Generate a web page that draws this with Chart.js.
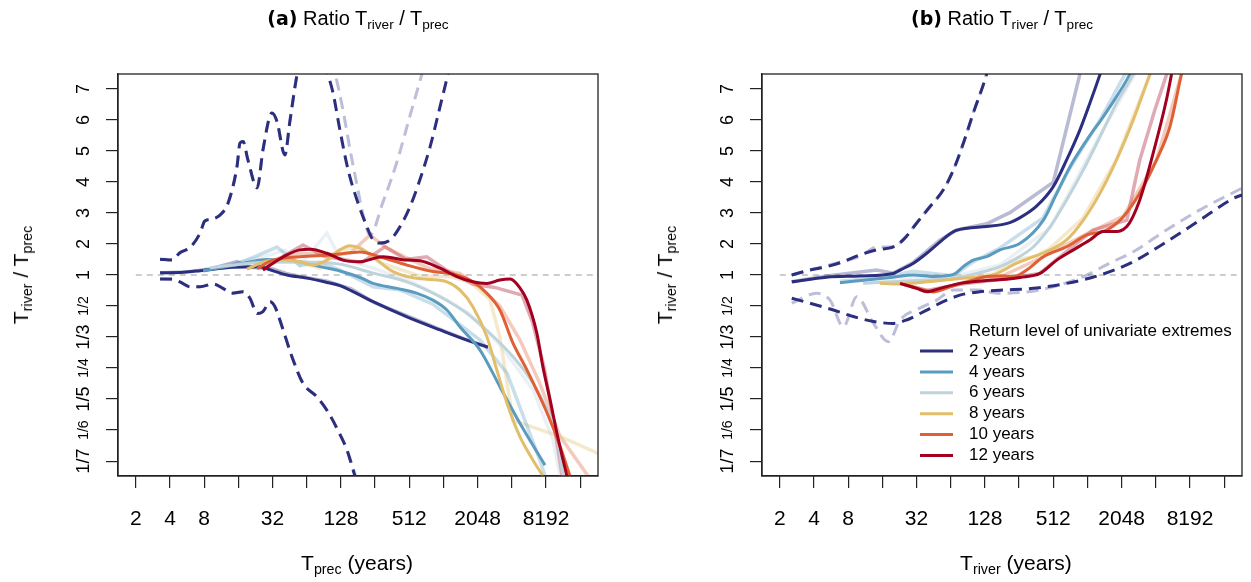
<!DOCTYPE html>
<html>
<head>
<meta charset="utf-8">
<script src="https://cdn.jsdelivr.net/npm/chart.js@4.4.1/dist/chart.umd.min.js"></script>
<style>
  body { margin: 0; background: #fff; }
  #wrap { position: relative; width: 1251px; height: 582px; overflow: hidden; font-family: "Liberation Sans", Arial, sans-serif; color: #000; }
  canvas { position: absolute; top: 0; }
  #chartA { left: 0; }
  #chartB { left: 625px; }
  .txt { position: absolute; white-space: nowrap; }
  .title { font-size: 20px; top: 7px; transform: translateX(-50%); }
  .title b { font-family: "DejaVu Sans", sans-serif; font-size: 19px; }
  .xtitle { font-size: 21px; top: 551px; transform: translateX(-50%); }
  .ytitle { font-size: 21px; transform: translate(-50%, -50%) rotate(-90deg); }
  sub { font-size: 0.68em; vertical-align: -0.3em; line-height: 0; }
</style>
</head>
<body>
<div id="wrap">
  <canvas id="chartA" width="625" height="582"></canvas>
  <canvas id="chartB" width="626" height="582"></canvas>
  <div class="txt title" style="left:358px"><b>(a)</b> Ratio T<sub>river</sub> / T<sub>prec</sub></div>
  <div class="txt title" style="left:1002px"><b>(b)</b> Ratio T<sub>river</sub> / T<sub>prec</sub></div>
  <div class="txt xtitle" style="left:357px">T<sub>prec</sub> (years)</div>
  <div class="txt xtitle" style="left:1016px">T<sub>river</sub> (years)</div>
  <div class="txt ytitle" style="left:21px;top:275px">T<sub>river</sub> / T<sub>prec</sub></div>
  <div class="txt ytitle" style="left:665px;top:275px">T<sub>river</sub> / T<sub>prec</sub></div>
</div>
<script>
// x values are log2 of the return period (years); y values are on the symmetric
// ratio scale used by the figure: k >= 0 means ratio k+1, k < 0 means ratio 1/(1-k)
const xTicks = [1, 2, 3, 4, 5, 6, 7, 8, 9, 10, 11, 12, 13, 14];
const xLabelled = [1, 2, 3, 5, 7, 9, 11, 13];
const yTicks = [-6, -5, -4, -3, -2, -1, 0, 1, 2, 3, 4, 5, 6];
const returnLevels = ['2 years', '4 years', '6 years', '8 years', '10 years', '12 years'];
const legendTitle = 'Return level of univariate extremes';

// panel (a): smoothed ratios against T_prec
const aYr2 = [[1.71,0.07],[2.38,0.09],[2.88,0.14],[3.84,0.25],[4.63,0.27],[4.84,0.2],[5.42,0.0],[6.01,-0.1],[6.59,-0.24],[6.97,-0.34],[7.56,-0.65],[7.94,-0.86],[8.93,-1.35],[9.9,-1.77],[10.69,-2.1],[11.3,-2.33]];
const aYr4 = [[2.97,0.14],[3.9,0.32],[4.84,0.5],[5.8,0.43],[6.39,0.27],[6.97,0.13],[7.56,-0.08],[7.94,-0.27],[8.64,-0.43],[9.23,-0.59],[9.69,-0.81],[10.1,-1.13],[10.48,-1.67],[11.07,-2.42],[11.65,-3.6],[12.24,-4.79],[12.97,-6.13]];
const aYr6 = [[3.17,0.23],[4.05,0.35],[4.93,0.42],[5.8,0.42],[6.97,0.35],[7.94,0.06],[8.93,-0.22],[9.9,-0.7],[10.69,-1.24],[11.36,-1.88],[12.03,-2.63],[12.62,-3.49],[13.03,-4.35],[13.32,-5.21],[13.5,-6.48]];
const aYr8 = [[4.25,0.19],[4.84,0.45],[5.31,0.48],[5.8,0.43],[6.18,0.32],[6.59,0.48],[6.97,0.81],[7.27,0.94],[7.56,0.86],[7.94,0.59],[8.44,0.16],[8.93,-0.05],[9.52,-0.14],[10.1,-0.22],[10.48,-0.48],[10.86,-1.02],[11.27,-1.99],[11.56,-3.06],[11.86,-4.14],[12.24,-5.22],[12.62,-5.97],[12.91,-6.48]];
const aYr10 = [[4.55,0.21],[5.01,0.48],[5.8,0.59],[6.77,0.65],[7.56,0.74],[8.14,0.59],[8.93,0.32],[9.69,0.11],[10.28,0.03],[10.86,-0.22],[11.27,-0.59],[11.65,-1.13],[12.03,-2.19],[12.44,-3.06],[13.03,-4.45],[13.41,-5.52],[13.7,-6.48]];
const aYr12 = [[4.72,0.16],[5.01,0.38],[5.42,0.65],[5.8,0.81],[6.1,0.83],[6.59,0.7],[7.06,0.48],[7.56,0.43],[8.23,0.59],[8.93,0.48],[9.31,0.46],[9.9,0.22],[10.39,-0.05],[10.86,-0.22],[11.27,-0.27],[11.65,-0.16],[11.95,-0.13],[12.24,-0.42],[12.44,-0.81],[12.73,-1.87],[12.91,-2.97],[13.12,-4.03],[13.32,-5.1],[13.5,-5.97],[13.61,-6.48]];

// panel (a): raw (unsmoothed) ratios
const aRaw2 = [[1.71,0.07],[2.5,0.1],[3.2,0.2],[3.96,0.43],[4.34,0.25],[5.0,0.2],[5.4,0.05],[5.8,-0.05],[6.6,-0.2],[7.3,-0.45],[8.0,-0.9],[8.9,-1.3],[9.9,-1.75],[10.7,-2.1],[11.3,-2.33]];
const aRaw4 = [[2.97,0.13],[3.8,0.3],[4.4,0.55],[5.13,0.9],[5.8,0.3],[6.39,0.42],[6.97,0.16],[7.94,-0.38],[8.73,-0.48],[9.69,-0.94],[10.48,-1.6],[11.07,-2.1],[11.86,-3.16],[12.82,-5.97],[12.97,-6.48]];
const aRaw6 = [[3.17,0.2],[4.05,0.42],[4.93,0.65],[5.36,0.8],[5.8,0.3],[6.59,1.35],[6.97,0.55],[7.94,0.22],[8.93,-0.16],[9.9,-0.68],[10.69,-1.2],[11.65,-2.25],[12.62,-3.7],[13.2,-5.3],[13.41,-6.48]];
const aRaw8 = [[4.25,0.19],[4.93,0.42],[5.8,0.42],[6.39,0.22],[6.97,0.81],[7.56,0.9],[8.14,0.4],[9.31,-0.03],[10.19,-0.06],[10.78,-0.22],[11.36,-0.8],[11.65,-2.0],[12.03,-4.69],[13.41,-5.2],[14.52,-5.75]];
const aRaw10 = [[4.55,0.2],[5.22,0.55],[5.8,0.7],[6.4,0.65],[7.27,0.7],[7.85,1.29],[8.3,0.9],[8.93,0.55],[9.61,0.2],[10.48,0.05],[11.07,-0.4],[11.65,-1.0],[12.24,-2.1],[12.82,-3.5],[13.41,-5.2],[14.23,-6.48]];
const aRaw12 = [[4.72,0.16],[5.3,0.6],[5.89,0.97],[6.5,0.6],[7.06,0.5],[7.6,0.4],[8.29,0.91],[8.9,0.5],[9.51,0.59],[10.1,0.15],[10.86,-0.3],[11.5,-0.4],[12.3,-0.65],[12.6,-1.5],[12.95,-3.0],[13.2,-4.6],[13.47,-6.48]];

// panel (a): bounds for the 2-year level
const aUpper = [[1.71,0.51],[2.06,0.48],[2.29,0.72],[2.59,0.89],[2.88,1.35],[3.02,1.74],[3.23,1.8],[3.52,1.99],[3.7,2.32],[3.96,3.49],[4.05,4.26],[4.14,4.3],[4.28,3.71],[4.55,2.81],[4.72,4.03],[4.98,5.22],[5.13,4.95],[5.36,3.87],[5.51,4.97],[5.72,6.48],[6.15,8.5],[6.62,6.48],[6.77,5.87],[6.97,4.68],[7.21,3.39],[7.47,2.42],[7.76,1.56],[7.94,1.13],[8.14,1.03],[8.44,1.13],[8.73,1.56],[9.02,2.2],[9.31,3.07],[9.61,4.14],[9.9,5.43],[10.13,6.48],[10.42,8.0]];
const aUpperRaw = [[1.71,0.51],[2.06,0.5],[2.29,0.72],[2.59,0.89],[2.88,1.35],[3.02,1.74],[3.23,1.8],[3.52,1.99],[3.7,2.32],[3.96,3.49],[4.05,4.26],[4.14,4.3],[4.28,3.71],[4.55,2.81],[4.72,4.03],[4.98,5.22],[5.13,4.95],[5.36,3.87],[5.51,4.97],[5.72,6.48],[6.2,8.5],[6.83,6.48],[7.06,5.32],[7.27,4.03],[7.47,2.9],[7.65,1.94],[7.85,1.29],[8.23,2.35],[8.64,3.65],[9.02,5.13],[9.37,6.48],[9.61,7.4]];
const aLower = [[1.71,-0.13],[2.06,-0.13],[2.29,-0.22],[2.59,-0.38],[2.88,-0.38],[3.26,-0.29],[3.55,-0.43],[3.81,-0.59],[4.14,-0.54],[4.34,-0.75],[4.55,-1.24],[4.72,-1.18],[4.93,-0.86],[5.07,-1.02],[5.28,-1.67],[5.57,-2.64],[5.89,-3.49],[6.3,-3.93],[6.62,-4.41],[6.91,-5.0],[7.18,-5.65],[7.41,-6.48],[7.62,-7.2]];
const aLowerRaw = [[1.71,-0.13],[2.06,-0.15],[2.29,-0.22],[2.59,-0.38],[2.88,-0.38],[3.26,-0.29],[3.55,-0.43],[3.81,-0.59],[4.14,-0.54],[4.34,-0.75],[4.55,-1.24],[4.72,-1.18],[4.93,-0.86],[5.07,-1.02],[5.28,-1.67],[5.57,-2.64],[5.89,-3.49],[6.3,-3.93],[6.62,-4.41],[6.91,-5.0],[7.18,-5.65],[7.43,-6.48],[7.64,-7.2]];

// panel (b): smoothed ratios against T_river
const bYr2 = [[1.35,-0.22],[2.37,-0.07],[3.35,-0.03],[4.32,0.05],[4.52,0.16],[4.91,0.38],[5.3,0.7],[5.69,1.07],[6.08,1.4],[6.47,1.51],[7.05,1.56],[7.73,1.69],[8.03,1.85],[8.51,2.22],[9.0,2.85],[9.39,3.71],[9.78,4.68],[10.07,5.54],[10.37,6.48],[10.66,7.5]];
const bYr4 = [[2.76,-0.25],[3.54,-0.16],[4.32,-0.07],[4.91,0.0],[5.5,-0.05],[6.08,0.02],[6.4,0.3],[6.66,0.48],[7.05,0.59],[7.44,0.81],[8.03,1.02],[8.71,1.77],[9.1,2.63],[9.49,3.49],[9.98,4.35],[10.46,5.1],[10.85,5.75],[11.24,6.48],[11.5,7.2]];
const bYr6 = [[3.44,-0.27],[4.32,-0.22],[5.3,-0.16],[6.08,-0.11],[6.76,0.05],[7.44,0.27],[7.93,0.54],[8.42,0.91],[8.91,1.56],[9.39,2.42],[9.88,3.39],[10.37,4.46],[10.85,5.54],[11.34,6.48],[11.6,7.1]];
const bYr8 = [[3.93,-0.27],[4.32,-0.29],[5.3,-0.22],[6.27,-0.11],[7.24,0.0],[7.93,0.38],[8.42,0.59],[8.91,0.81],[9.39,1.13],[9.88,1.77],[10.37,2.64],[10.85,3.71],[11.34,5.0],[11.83,6.48],[12.1,7.3]];
const bYr10 = [[4.52,-0.27],[5.01,-0.43],[5.5,-0.54],[5.98,-0.38],[6.47,-0.22],[7.05,-0.05],[7.44,-0.03],[7.83,-0.05],[8.22,0.16],[8.71,0.59],[9.39,0.91],[9.98,1.29],[10.56,1.45],[11.05,1.88],[11.53,2.64],[12.02,3.71],[12.41,4.78],[12.75,6.48],[12.9,7.2]];
const bYr12 = [[4.52,-0.27],[5.01,-0.43],[5.3,-0.54],[5.69,-0.43],[6.27,-0.27],[7.05,-0.18],[7.63,-0.14],[8.03,-0.08],[8.61,0.05],[9.1,0.48],[9.59,0.81],[10.07,1.13],[10.46,1.4],[10.76,1.4],[11.15,1.56],[11.53,2.42],[11.92,3.92],[12.31,5.65],[12.46,6.48],[12.6,7.3]];

// panel (b): raw ratios
const bRaw2 = [[1.35,-0.22],[2.37,-0.03],[3.35,0.1],[3.83,0.16],[4.32,0.06],[4.89,0.39],[5.69,1.13],[6.18,1.45],[7.05,1.65],[7.73,2.01],[9.0,2.99],[9.78,6.48],[9.87,6.9]];
const bRaw4 = [[2.76,-0.2],[3.93,-0.1],[4.89,0.12],[6.07,-0.02],[6.65,0.42],[7.44,0.87],[8.7,1.84],[9.49,3.45],[10.37,5.0],[11.1,6.48],[11.3,7.2]];
const bRaw6 = [[3.43,-0.27],[4.52,-0.16],[5.3,-0.05],[6.07,-0.05],[7.44,0.32],[8.91,1.52],[10.37,4.52],[11.39,6.48],[11.6,7.1]];
const bRaw8 = [[3.93,-0.27],[5.39,-0.2],[7.24,0.03],[8.03,0.52],[8.5,0.6],[8.91,0.87],[9.87,1.84],[10.84,3.71],[11.83,6.48],[12.1,7.3]];
const bRaw10 = [[4.52,-0.27],[5.5,-0.55],[6.47,-0.2],[7.44,-0.07],[8.7,0.58],[9.96,1.32],[11.05,1.9],[12.02,3.7],[12.75,6.48],[12.9,7.2]];
const bRaw12 = [[4.52,-0.27],[5.3,-0.5],[6.27,-0.3],[7.6,-0.12],[8.6,0.05],[9.08,0.48],[10.16,1.45],[11.15,1.77],[11.53,3.71],[11.97,5.32],[12.32,6.48],[12.5,7.2]];

// panel (b): bounds for the 2-year level
const bUpper = [[1.35,0.0],[1.88,0.16],[2.37,0.27],[2.86,0.43],[3.35,0.65],[3.83,0.81],[4.32,0.91],[4.61,1.13],[5.0,1.67],[5.39,2.2],[5.78,2.74],[6.08,3.39],[6.37,4.25],[6.66,5.22],[7.05,6.48],[7.3,7.6]];
const bUpperRaw = [[1.35,0.0],[1.88,0.16],[2.37,0.3],[2.86,0.45],[3.35,0.6],[3.83,0.9],[4.32,0.9],[4.61,1.15],[5.0,1.67],[5.39,2.2],[5.78,2.74],[6.08,3.39],[6.37,4.25],[6.66,5.22],[7.05,6.48],[7.3,7.6]];
const bLower = [[1.35,-0.75],[1.88,-0.91],[2.57,-1.13],[3.15,-1.34],[3.74,-1.5],[4.32,-1.56],[4.71,-1.45],[5.3,-1.13],[5.78,-0.86],[6.27,-0.65],[6.85,-0.54],[7.44,-0.49],[8.41,-0.43],[9.39,-0.27],[10.37,0.0],[11.34,0.43],[12.31,1.07],[13.29,1.77],[14.27,2.47],[14.52,2.58]];
const bLowerRaw = [[1.35,-0.91],[2.08,-0.59],[2.47,-0.81],[2.86,-1.67],[3.25,-0.7],[3.74,-1.56],[4.18,-2.15],[4.52,-1.45],[5.11,-1.06],[5.59,-0.81],[6.08,-0.48],[6.76,-0.48],[7.44,-0.59],[8.61,-0.48],[9.88,-0.05],[10.66,0.39],[11.34,0.75],[12.31,1.45],[13.29,2.1],[14.52,2.8]];

const colors = ['#2c2f7f', '#5b9bc0', '#bfd3dc', '#e2bd6a', '#df6035', '#a2001e'];
const family = '"Liberation Sans", Arial, sans-serif';

function toPoints(arr) {
  return arr.map(p => ({ x: p[0], y: p[1] }));
}

function smooth(arr, color) {
  return { data: toPoints(arr), borderColor: color, borderWidth: 3, cubicInterpolationMode: 'monotone', order: 1 };
}
function raw(arr, color) {
  return { data: toPoints(arr), borderColor: color + '55', borderWidth: 3.5, tension: 0, order: 3 };
}
function bound(arr, color, faint) {
  return { data: toPoints(arr), borderColor: faint ? color + '50' : color, borderWidth: 3,
           borderDash: [12, 7], cubicInterpolationMode: 'monotone', order: faint ? 2.5 : 2 };
}
function refLine() {
  return { data: [{ x: 1, y: 0 }, { x: 14.52, y: 0 }], borderColor: '#bdbdbd', borderWidth: 1.3,
           borderDash: [6, 5], order: 4 };
}

function yLabel(v) {
  return v >= 0 ? String(v + 1) : '1/' + (1 - v);
}

const boxPlugin = {
  id: 'box',
  afterDraw(chart) {
    const { ctx, chartArea: a } = chart;
    ctx.save();
    ctx.strokeStyle = '#222';
    ctx.lineWidth = 1.3;
    ctx.strokeRect(a.left, a.top, a.right - a.left, a.bottom - a.top);
    ctx.restore();
  }
};

const legendPlugin = {
  id: 'levels',
  afterDraw(chart) {
    const { ctx, chartArea: a } = chart;
    ctx.save();
    ctx.font = '17px ' + family;
    ctx.fillStyle = '#000';
    ctx.textBaseline = 'middle';
    ctx.fillText(legendTitle, a.left + 207, a.top + 257);
    returnLevels.forEach((lab, i) => {
      const y = a.top + 277 + 20.9 * i;
      ctx.strokeStyle = colors[i];
      ctx.lineWidth = 3;
      ctx.beginPath();
      ctx.moveTo(a.left + 158, y);
      ctx.lineTo(a.left + 191, y);
      ctx.stroke();
      ctx.fillText(lab, a.left + 207, y);
    });
    ctx.restore();
  }
};

function options(yWidth, padRight) {
  return {
    responsive: false,
    animation: false,
    events: [],
    layout: { padding: { left: 0, right: padRight, top: 74, bottom: 0 } },
    elements: { point: { radius: 0 }, line: { fill: false } },
    datasets: { line: { clip: 0 } },
    plugins: { legend: { display: false }, tooltip: { enabled: false } },
    scales: {
      x: {
        type: 'linear', min: 0.48, max: 14.52,
        afterBuildTicks: s => { s.ticks = xTicks.map(v => ({ value: v })); },
        afterFit: s => { s.height = 106; },
        grid: { drawOnChartArea: false, tickLength: 12, color: '#222', lineWidth: 1.2 },
        border: { color: '#222', width: 1.3 },
        ticks: {
          autoSkip: false, maxRotation: 0, padding: 19, color: '#000',
          font: { family, size: 21 },
          callback: v => xLabelled.includes(v) ? String(Math.pow(2, v)) : ''
        }
      },
      y: {
        type: 'linear', min: -6.48, max: 6.48,
        afterBuildTicks: s => { s.ticks = yTicks.map(v => ({ value: v })); },
        afterFit: s => { s.width = yWidth; },
        grid: { drawOnChartArea: false, tickLength: 12, color: '#222', lineWidth: 1.2 },
        border: { color: '#222', width: 1.3 },
        ticks: {
          autoSkip: false, minRotation: 90, maxRotation: 90, crossAlign: 'center', padding: 9,
          color: '#000',
          font: c => ({ family, size: (c.tick && c.tick.value < 0 && c.tick.value % 2 !== 0) ? 14 : 18 }),
          callback: v => yLabel(v)
        }
      }
    }
  };
}

const aSets = [
  refLine(),
  raw(aRaw2, colors[0]), raw(aRaw4, colors[1]), raw(aRaw6, colors[2]),
  raw(aRaw8, colors[3]), raw(aRaw10, colors[4]), raw(aRaw12, colors[5]),
  bound(aUpperRaw, colors[0], true), bound(aLowerRaw, colors[0], true),
  bound(aUpper, colors[0], false), bound(aLower, colors[0], false),
  smooth(aYr12, colors[5]), smooth(aYr10, colors[4]), smooth(aYr8, colors[3]),
  smooth(aYr6, colors[2]), smooth(aYr4, colors[1]), smooth(aYr2, colors[0])
];

const bSets = [
  refLine(),
  raw(bRaw2, colors[0]), raw(bRaw4, colors[1]), raw(bRaw6, colors[2]),
  raw(bRaw8, colors[3]), raw(bRaw10, colors[4]), raw(bRaw12, colors[5]),
  bound(bUpperRaw, colors[0], true), bound(bLowerRaw, colors[0], true),
  bound(bUpper, colors[0], false), bound(bLower, colors[0], false),
  smooth(bYr12, colors[5]), smooth(bYr10, colors[4]), smooth(bYr8, colors[3]),
  smooth(bYr6, colors[2]), smooth(bYr4, colors[1]), smooth(bYr2, colors[0])
];

new Chart(document.getElementById('chartA'), {
  type: 'line',
  data: { datasets: aSets },
  options: options(118, 27),
  plugins: [boxPlugin]
});

new Chart(document.getElementById('chartB'), {
  type: 'line',
  data: { datasets: bSets },
  options: options(137, 9),
  plugins: [boxPlugin, legendPlugin]
});
</script>
</body>
</html>
